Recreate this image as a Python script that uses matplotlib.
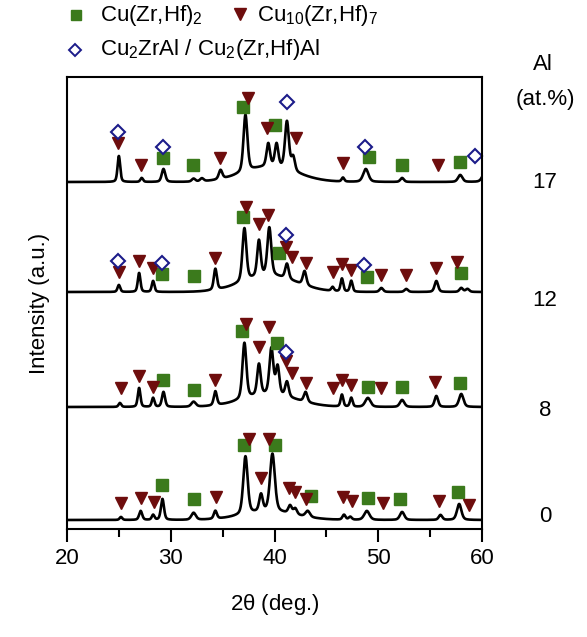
"""XRD patterns of Cu-Zr-Hf-Al alloys with phase markers."""

import numpy as np
import matplotlib

matplotlib.use("Agg")
import matplotlib.pyplot as plt
from matplotlib.lines import Line2D

plt.rcParams["font.family"] = ["Liberation Sans", "DejaVu Sans"]
plt.rcParams["mathtext.default"] = "regular"

# --- data -------------------------------------------------------------------
AL_LABELS = ["0", "8", "12", "17"]
BASELINES = [9, 122, 237, 347]

# peak tables per curve: (2theta, height above baseline, fwhm)
PEAKS_0 = [(25.2, 3, 0.3), (27.1, 9, 0.35), (28.3, 5, 0.3), (29.2, 21, 0.35),
           (32.2, 7, 0.5), (34.3, 8, 0.35), (37.2, 58, 0.5), (38.7, 17, 0.4),
           (39.8, 58, 0.55), (41.5, 8, 0.4), (42.0, 6, 0.4), (43.2, 6, 0.5),
           (46.7, 5, 0.35), (47.3, 3, 0.35), (48.9, 9, 0.6), (52.3, 8, 0.5),
           (56.0, 5, 0.4), (57.8, 16, 0.5)]
HUMP_0 = 8

PEAKS_8 = [(25.1, 4, 0.3), (26.95, 19, 0.3), (28.3, 9, 0.3), (29.3, 15, 0.35),
           (32.2, 5, 0.5), (34.3, 14, 0.35), (37.1, 56, 0.45), (38.5, 31, 0.4),
           (39.7, 46, 0.45), (40.3, 28, 0.4), (41.2, 15, 0.4), (43.0, 10, 0.4),
           (46.5, 12, 0.3), (47.4, 9, 0.3), (49.0, 9, 0.6), (52.3, 7, 0.5),
           (55.6, 11, 0.4), (58.0, 13, 0.5)]
HUMP_8 = 12

PEAKS_12 = [(25.0, 7, 0.3), (26.95, 19, 0.3), (28.3, 11, 0.3), (34.3, 21, 0.35),
            (37.1, 53, 0.45), (38.5, 36, 0.4), (39.5, 48, 0.45), (41.2, 15, 0.4),
            (42.9, 14, 0.4), (45.6, 4, 0.3), (46.5, 13, 0.3), (47.4, 11, 0.3),
            (50.3, 4, 0.4), (52.7, 3, 0.4), (55.6, 11, 0.4), (58.0, 4, 0.4),
            (58.6, 3, 0.4)]
HUMP_12 = 16

PEAKS_17 = [(25.0, 26, 0.3), (27.2, 4, 0.3), (29.3, 13, 0.4), (32.2, 3, 0.4),
            (33.0, 3, 0.4), (34.8, 9, 0.4), (37.2, 57, 0.45), (39.4, 23, 0.4),
            (40.2, 23, 0.4), (41.2, 48, 0.45), (41.8, 14, 0.4), (46.6, 4, 0.3),
            (48.8, 13, 0.6), (52.3, 4, 0.4), (57.9, 7, 0.5), (60.3, 10, 0.6)]
HUMP_17 = 15

# phase marker positions per curve: 2theta and height
SQ_X = [[29.2, 32.2, 37.1, 40.0, 43.5, 49.0, 52.1, 57.7],
        [29.3, 32.2, 36.9, 40.2, 49.0, 52.3, 57.9],
        [29.2, 32.2, 37.0, 40.4, 48.9, 58.0],
        [29.3, 32.1, 37.0, 40.0, 49.1, 52.3, 57.9]]
SQ_Y = [[44, 30, 84, 84, 33, 31, 30, 37],
        [149, 139, 198, 186, 142, 142, 146],
        [255, 253, 312, 276, 252, 256],
        [371, 364, 422, 404, 372, 364, 367]]

TRI_X = [[25.2, 27.1, 28.4, 34.4, 37.5, 38.7, 39.5, 41.4, 42.0, 43.0, 46.6, 47.5,
          50.5, 55.9, 58.7],
         [25.2, 26.9, 28.3, 34.3, 37.3, 38.5, 39.5, 41.1, 41.7, 43.0, 45.6, 46.5,
          47.4, 50.3, 55.5],
         [25.0, 26.9, 28.3, 34.3, 37.3, 38.5, 39.4, 41.1, 41.7, 43.0, 45.6, 46.5,
          47.4, 50.3, 52.7, 55.6, 57.6],
         [24.9, 27.1, 34.7, 37.4, 39.3, 42.1, 46.6, 55.8]]
TRI_Y = [[26, 31, 27, 32, 90, 51, 90, 41, 37, 30, 32, 28, 26, 28, 24],
         [141, 153, 142, 149, 205, 182, 202, 168, 156, 146, 141, 149, 144, 141, 147],
         [257, 268, 261, 271, 322, 305, 314, 282, 272, 266, 257, 265, 259, 254, 254,
          261, 267],
         [386, 364, 371, 431, 401, 391, 366, 364]]

DIA_X = [[], [41.1], [24.9, 29.2, 41.1, 48.6], [24.9, 29.3, 41.2, 48.7, 59.3]]
DIA_Y = [[], [177], [268, 266, 294, 264], [397, 382, 427, 382, 373]]

SQ_COLOR = "#3b7a1c"
TRI_COLOR = "#6e0d0d"
DIA_COLOR = "#1c1c8a"


def pattern(tt, peaks, hump):
    y = hump * np.exp(-0.5 * ((tt - 39.5) / 2.6) ** 2)
    for pos, h, w in peaks:
        g = np.exp(-4 * np.log(2) * ((tt - pos) / w) ** 2)
        lor = 1.0 / (1.0 + 4 * ((tt - pos) / w) ** 2)
        y = y + h * (0.6 * g + 0.4 * lor)
    return y


tt = np.linspace(20, 60, 2001)
all_peaks = [(PEAKS_0, HUMP_0), (PEAKS_8, HUMP_8), (PEAKS_12, HUMP_12), (PEAKS_17, HUMP_17)]

fig = plt.figure(figsize=(5.87, 6.37), dpi=100)
ax = fig.add_axes([67 / 587, 1 - 529 / 637, 415 / 587, 452 / 637])

for base, (peaks, hump) in zip(BASELINES, all_peaks):
    ax.plot(tt, base + pattern(tt, peaks, hump), color="black", lw=1.9)

for i in range(4):
    ax.plot(SQ_X[i], SQ_Y[i], "s", ms=8, color=SQ_COLOR, mec=SQ_COLOR, clip_on=False)
    ax.plot(TRI_X[i], TRI_Y[i], "v", ms=9, color=TRI_COLOR, mec=TRI_COLOR, clip_on=False)
    ax.plot(DIA_X[i], DIA_Y[i], "D", ms=7.5, mfc="white", mec=DIA_COLOR, mew=1.5,
            clip_on=False)

ax.set_xlim(20, 60)
ax.set_ylim(0, 452)
ax.set_yticks([])
ax.set_xticks([20, 30, 40, 50, 60])
ax.set_xticks([25, 35, 45, 55], minor=True)
ax.tick_params(axis="x", which="major", length=9, width=1.5, labelsize=16, pad=5)
ax.tick_params(axis="x", which="minor", length=5.5, width=1.5)
for sp in ax.spines.values():
    sp.set_linewidth(1.5)

ax.set_xlabel(r"2$\theta$ (deg.)", fontsize=16, labelpad=16)
ax.set_ylabel("Intensity (a.u.)", fontsize=16, labelpad=12)

# right-hand composition labels
fig.text(543 / 587, 1 - 64 / 637, "Al", fontsize=16, ha="center", va="center")
fig.text(545 / 587, 1 - 100 / 637, "(at.%)", fontsize=16, ha="center", va="center")
for lab, ypx in zip(AL_LABELS, [517, 410, 300, 182]):
    fig.text(545 / 587, 1 - ypx / 637, lab, fontsize=16, ha="center", va="center")

# legend drawn at the top of the figure
fig.add_artist(Line2D([76 / 587], [1 - 15 / 637], marker="s", ms=7, color=SQ_COLOR,
                      transform=fig.transFigure))
fig.text(100 / 587, 1 - 15 / 637, "Cu(Zr,Hf)$_2$", fontsize=16, va="center")
fig.add_artist(Line2D([240 / 587], [1 - 14 / 637], marker="v", ms=8, color=TRI_COLOR,
                      transform=fig.transFigure))
fig.text(257 / 587, 1 - 15 / 637, "Cu$_{10}$(Zr,Hf)$_7$", fontsize=16, va="center")
fig.add_artist(Line2D([75 / 587], [1 - 50 / 637], marker="D", ms=6, mfc="white",
                      mec=DIA_COLOR, mew=1.4, transform=fig.transFigure))
fig.text(100 / 587, 1 - 50 / 637, "Cu$_2$ZrAl / Cu$_2$(Zr,Hf)Al", fontsize=16, va="center")

fig.savefig("out.png", dpi=100)
